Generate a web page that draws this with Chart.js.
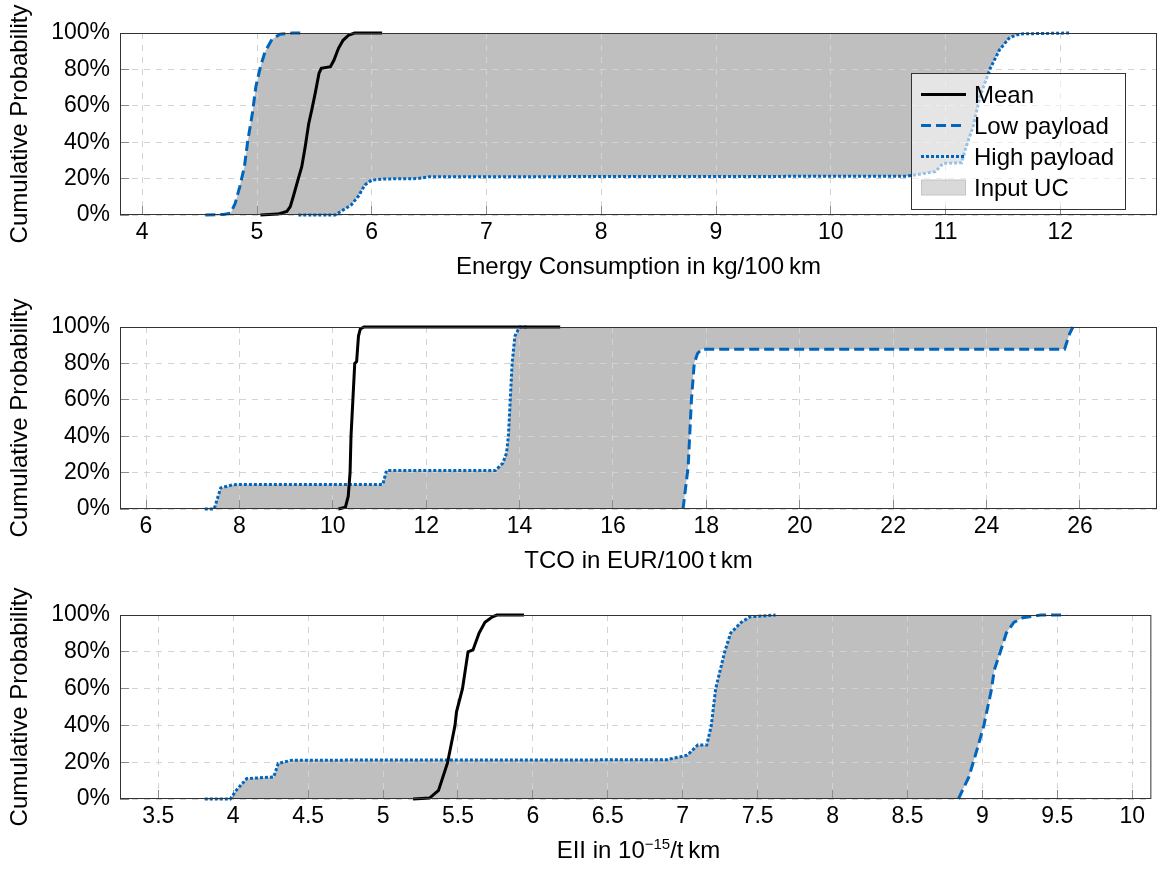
<!DOCTYPE html>
<html lang="en">
<head>
<meta charset="utf-8">
<title>Cumulative probability</title>
<script src="https://cdn.jsdelivr.net/npm/chart.js@4.4.1/dist/chart.umd.min.js"></script>
<style>
  html, body { margin: 0; padding: 0; background: #fff; }
  body { width: 1158px; height: 870px; position: relative; overflow: hidden; font-family: "Liberation Sans", Arial, sans-serif; color: #000; }
  .panel { position: absolute; left: 0; width: 1158px; }
  .legend { position: absolute; left: 911px; top: 73px; width: 215px; height: 137px; box-sizing: border-box;
            border: 1px solid #333; background: rgba(255, 255, 255, 0.6); padding-top: 5px; }
  .legend .row { height: 31px; display: flex; align-items: center; font-size: 24px; line-height: 31px; }
  .legend svg { margin-left: 9px; margin-right: 8px; flex: none; }
  .xtitle { position: absolute; left: 120px; width: 1037px; text-align: center; font-size: 24px; line-height: 28.8px; }
  .xtitle sup { font-size: 15px; line-height: 0; vertical-align: baseline; position: relative; top: -9px; }
</style>
</head>
<body>

<div class="panel" style="top:0;height:290px"><canvas id="energyChart" width="1158" height="290"></canvas></div>
<div class="panel" style="top:294px;height:290px"><canvas id="tcoChart" width="1158" height="290"></canvas></div>
<div class="panel" style="top:582px;height:292px"><canvas id="eiiChart" width="1158" height="292"></canvas></div>

<div class="xtitle" style="top:836px">EII in 10<sup>&minus;15</sup>/t&thinsp;km</div>

<div class="legend">
  <div class="row"><svg width="45" height="31"><line x1="0" y1="15.5" x2="45" y2="15.5" stroke="#000" stroke-width="3"/></svg>Mean</div>
  <div class="row"><svg width="45" height="31"><line x1="0" y1="15.5" x2="45" y2="15.5" stroke="#0065BD" stroke-width="3" stroke-dasharray="10 5"/></svg>Low payload</div>
  <div class="row"><svg width="45" height="31"><line x1="0" y1="15.5" x2="45" y2="15.5" stroke="#0065BD" stroke-width="3" stroke-dasharray="3 2"/></svg>High payload</div>
  <div class="row"><svg width="45" height="31"><rect x="0.5" y="8" width="44" height="15" fill="#d9d9d9" stroke="#c4c4c4"/></svg>Input UC</div>
</div>

<script>
// Energy consumption in kg/100 km
const energyMeanX = [5.03, 5.18, 5.26, 5.29, 5.32, 5.36, 5.39, 5.42, 5.45, 5.48, 5.51, 5.54, 5.56, 5.64, 5.67, 5.71, 5.75, 5.80, 5.85, 6.09];
const energyMeanP = [0, 0.5, 2, 4.6, 11, 20, 26.5, 37.5, 50, 58.6, 67.8, 77.8, 80.6, 81.5, 85, 91.6, 96, 98.9, 100, 100];
const energyLowX = [4.55, 4.71, 4.77, 4.81, 4.85, 4.89, 4.92, 4.96, 4.99, 5.03, 5.07, 5.13, 5.20, 5.31, 5.41];
const energyLowP = [0, 0.3, 1, 6.4, 15.6, 26.5, 41, 56, 70.5, 81.5, 89.7, 96.5, 99.3, 100, 100];
const energyHighX = [5.36, 5.68, 5.75, 5.82, 5.88, 5.94, 6.00, 6.10, 6.40, 6.50, 10.66, 10.91, 10.98, 11.14, 11.18, 11.24, 11.30, 11.39, 11.47, 11.56, 11.65, 12.08];
const energyHighP = [0, 0, 2.7, 5.5, 10, 16.5, 19.2, 19.8, 20, 21, 21.3, 23.8, 28.4, 28.7, 37.5, 48.5, 65, 80.6, 90.7, 97.6, 99.5, 100];
const energyTicks = [4, 5, 6, 7, 8, 9, 10, 11, 12];
const energyRange = [3.806, 12.843];

// TCO in EUR/100 t km
const tcoMeanX = [10.12, 10.27, 10.33, 10.37, 10.39, 10.43, 10.47, 10.51, 10.55, 10.59, 10.67, 14.87];
const tcoMeanP = [0, 1, 6.9, 20, 40, 60, 80, 81, 95, 99, 100, 100];
const tcoLowX = [17.50, 17.61, 17.68, 17.74, 17.81, 17.90, 25.67, 25.78, 25.85];
const tcoLowP = [0, 23.3, 59.9, 80, 85.4, 87.8, 87.8, 96.4, 100];
const tcoHighX = [7.26, 7.46, 7.60, 7.86, 8.02, 11.07, 11.15, 13.48, 13.64, 13.72, 13.76, 13.80, 13.84, 13.90, 14.00, 14.20];
const tcoHighP = [0, 0, 11.6, 13.3, 13.5, 13.5, 21.1, 21.1, 25.2, 30.7, 40, 60, 80, 95, 100, 100];
const tcoTicks = [6, 8, 10, 12, 14, 16, 18, 20, 22, 24, 26];
const tcoRange = [5.443, 27.65];

// EII in 10^-15 / t km
const eiiMeanX = [5.20, 5.31, 5.37, 5.43, 5.48, 5.49, 5.53, 5.567, 5.60, 5.64, 5.68, 5.73, 5.76, 5.94];
const eiiMeanP = [0, 0.5, 4.7, 19.6, 40, 47.4, 60, 80, 81, 90, 96, 99, 100, 100];
const eiiLowX = [8.84, 8.91, 8.97, 9.01, 9.06, 9.08, 9.12, 9.16, 9.21, 9.27, 9.39, 9.56];
const eiiLowP = [0, 12, 28.4, 40, 59.3, 70.2, 80, 90.2, 96, 98.5, 100, 100];
const eiiHighX = [3.81, 3.98, 4.02, 4.09, 4.27, 4.30, 4.39, 6.89, 7.03, 7.10, 7.16, 7.19, 7.22, 7.28, 7.32, 7.39, 7.45, 7.62];
const eiiHighP = [0, 0, 4.7, 11.1, 12, 19.3, 21.1, 21.3, 23.8, 29.3, 29.3, 39.6, 60, 80, 90.2, 96, 99, 100];
const eiiTicks = [3.5, 4, 4.5, 5, 5.5, 6, 6.5, 7, 7.5, 8, 8.5, 9, 9.5, 10];
const eiiRange = [3.244, 10.128];

const probTicks = [0, 20, 40, 60, 80, 100];

const BLUE = '#0065BD';
const FONT = { family: '"Liberation Sans", Arial, sans-serif', size: 23 };
const TITLE_FONT = { family: FONT.family, size: 24 };

Chart.defaults.font.family = FONT.family;
Chart.defaults.font.size = FONT.size;
Chart.defaults.color = '#000';

function pts(xs, ps) {
    return xs.map((x, i) => ({ x: x, y: ps[i] }));
}

// frame around the plot area (pgfplots style box)
const framePlugin = {
    id: 'frame',
    afterDraw(chart) {
        const { ctx, chartArea: a } = chart;
        ctx.save();
        ctx.strokeStyle = '#333';
        ctx.lineWidth = 1;
        ctx.strokeRect(a.left + 0.5, a.top + 0.5, a.right - a.left - 1, a.bottom - a.top - 1);
        ctx.restore();
    }
};

// left curve reaches 100 % first, right curve last; the band between them is the input uncertainty
function buildDatasets(meanX, meanP, lowX, lowP, highX, highP, lowIsLeft) {
    const left = lowIsLeft ? [lowX, lowP] : [highX, highP];
    const right = lowIsLeft ? [highX, highP] : [lowX, lowP];
    const upper = pts(left[0], left[1]).concat([{ x: right[0][right[0].length - 1], y: 100 }]);
    const lower = [{ x: left[0][0], y: 0 }].concat(pts(right[0], right[1]));
    const line = { pointRadius: 0, tension: 0, fill: false, clip: false, borderCapStyle: 'butt' };
    return [
        Object.assign({ label: 'Mean', data: pts(meanX, meanP), borderColor: '#000', borderWidth: 3 }, line),
        Object.assign({ label: 'Low payload', data: pts(lowX, lowP), borderColor: BLUE, borderWidth: 3, borderDash: [10, 5] }, line),
        Object.assign({ label: 'High payload', data: pts(highX, highP), borderColor: BLUE, borderWidth: 3, borderDash: [3, 2] }, line),
        { label: 'Input UC', data: upper, pointRadius: 0, tension: 0, borderWidth: 0, borderColor: 'rgba(0,0,0,0)',
          backgroundColor: '#bfbfbf', fill: '+1' },
        { label: 'Input UC (lower)', data: lower, pointRadius: 0, tension: 0, borderWidth: 0, borderColor: 'rgba(0,0,0,0)',
          fill: false }
    ];
}

function makeChart(id, datasets, xTicks, xRange, xTitle) {
    const ctx = document.getElementById(id).getContext('2d');
    return new Chart(ctx, {
        type: 'line',
        data: { datasets: datasets },
        plugins: [framePlugin],
        options: {
            responsive: false,
            animation: false,
            devicePixelRatio: 1,
            layout: { padding: { top: 33, right: 1, left: 0, bottom: 0 } },
            plugins: {
                legend: { display: false },
                tooltip: { enabled: false },
                filler: { drawTime: 'beforeDraw', propagate: false }
            },
            scales: {
                x: {
                    type: 'linear',
                    min: xRange[0],
                    max: xRange[1],
                    afterBuildTicks: scale => { scale.ticks = xTicks.map(v => ({ value: v })); },
                    afterFit: scale => { scale.height = 75; },
                    ticks: { padding: 13, callback: v => String(v), maxRotation: 0, autoSkip: false },
                    grid: { color: '#d3d3d3', lineWidth: 1, drawTicks: true, tickLength: -9,
                            tickColor: '#8c8c8c', tickWidth: 1, tickBorderDash: [] },
                    border: { display: false, dash: [6, 6] },
                    title: { display: xTitle !== null, text: xTitle || '', font: TITLE_FONT, padding: { top: 0, bottom: 8 } }
                },
                y: {
                    type: 'linear',
                    min: 0,
                    max: 100,
                    afterBuildTicks: scale => { scale.ticks = probTicks.map(v => ({ value: v })); },
                    afterFit: scale => { scale.width = 120; },
                    ticks: { padding: 19, callback: v => v + '%' },
                    grid: { color: '#d3d3d3', lineWidth: 1, drawTicks: true, tickLength: -9,
                            tickColor: '#8c8c8c', tickWidth: 1, tickBorderDash: [] },
                    border: { display: false, dash: [6, 6] },
                    title: { display: true, text: 'Cumulative Probability', font: TITLE_FONT, padding: { top: 6, bottom: 0 } }
                }
            }
        }
    });
}

makeChart('energyChart',
    buildDatasets(energyMeanX, energyMeanP, energyLowX, energyLowP, energyHighX, energyHighP, true),
    energyTicks, energyRange, 'Energy Consumption in kg/100\u2009km');

makeChart('tcoChart',
    buildDatasets(tcoMeanX, tcoMeanP, tcoLowX, tcoLowP, tcoHighX, tcoHighP, false),
    tcoTicks, tcoRange, 'TCO in EUR/100\u2009t\u2009km');

// EII axis title is set as HTML because of the superscript exponent
makeChart('eiiChart',
    buildDatasets(eiiMeanX, eiiMeanP, eiiLowX, eiiLowP, eiiHighX, eiiHighP, false),
    eiiTicks, eiiRange, null);
</script>
</body>
</html>
